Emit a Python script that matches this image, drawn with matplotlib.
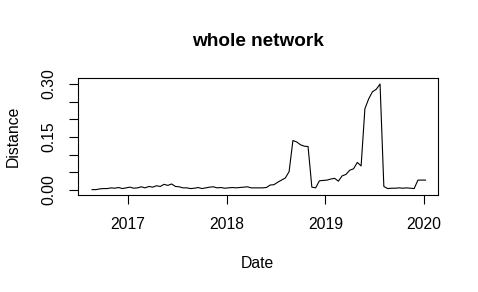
import matplotlib
matplotlib.use("Agg")
import matplotlib.pyplot as plt
import pandas as pd

title = "whole network"
x_label = "Date"
y_label = "Distance"
start_date = "2016-08-22"
step = "14D"
distance = [
    0.001, 0.001, 0.003, 0.004, 0.004, 0.006, 0.005, 0.007, 0.004, 0.006,
    0.008, 0.005, 0.006, 0.009, 0.006, 0.010, 0.008, 0.012, 0.010, 0.016,
    0.013, 0.017, 0.010, 0.009, 0.006, 0.006, 0.004, 0.005, 0.007, 0.004,
    0.006, 0.008, 0.009, 0.006, 0.007, 0.005, 0.006, 0.007, 0.006, 0.007,
    0.008, 0.009, 0.006, 0.006, 0.006, 0.006, 0.007, 0.014, 0.015, 0.022,
    0.028, 0.034, 0.052, 0.140, 0.136, 0.128, 0.124, 0.123, 0.008, 0.006,
    0.026, 0.027, 0.028, 0.031, 0.033, 0.025, 0.040, 0.044, 0.056, 0.060,
    0.078, 0.068, 0.230, 0.258, 0.278, 0.285, 0.300, 0.010, 0.004, 0.005,
    0.005, 0.006, 0.005, 0.006, 0.005, 0.004, 0.028, 0.028, 0.028,
]
year_ticks = [2017, 2018, 2019, 2020]
y_ticks = [0.00, 0.05, 0.10, 0.15, 0.20, 0.25, 0.30]
y_tick_labels = ["0.00", "", "", "0.15", "", "", "0.30"]

dates = pd.date_range(start_date, periods=len(distance), freq=step)

plt.rcParams["font.family"] = ["Liberation Sans", "DejaVu Sans"]
fig = plt.figure(figsize=(4.78, 2.92), dpi=100)
ax = fig.add_axes([78 / 478, 1 - 195 / 292, (437.7 - 78) / 478, (195 - 78) / 292])

ax.plot(dates, distance, color="black", lw=0.8)

ax.set_xlim(pd.Timestamp("2016-07-01"), pd.Timestamp("2020-02-20"))
ax.set_ylim(-0.0142, 0.317)
ax.set_xticks([pd.Timestamp(f"{y}-01-01") for y in year_ticks])
ax.set_xticklabels([str(y) for y in year_ticks], fontsize=11.3)
ax.set_yticks(y_ticks)
ax.set_yticklabels(y_tick_labels, fontsize=11.3, rotation=90, va="center")
ax.tick_params(axis="both", length=6.5, width=0.8, color="black")
ax.tick_params(axis="x", pad=9)
ax.tick_params(axis="y", pad=9)
for s in ax.spines.values():
    s.set_linewidth(0.8)

fig.text(257.8 / 478, 1 - 42 / 292, title, fontsize=13.7, fontweight="bold",
         ha="center", va="center")
fig.text(257.8 / 478, 1 - 263 / 292, x_label, fontsize=11.3, ha="center", va="center")
fig.text(13 / 478, 1 - 136.5 / 292, y_label, fontsize=11.3, ha="center", va="center",
         rotation=90)

fig.savefig("out.png", dpi=100)
